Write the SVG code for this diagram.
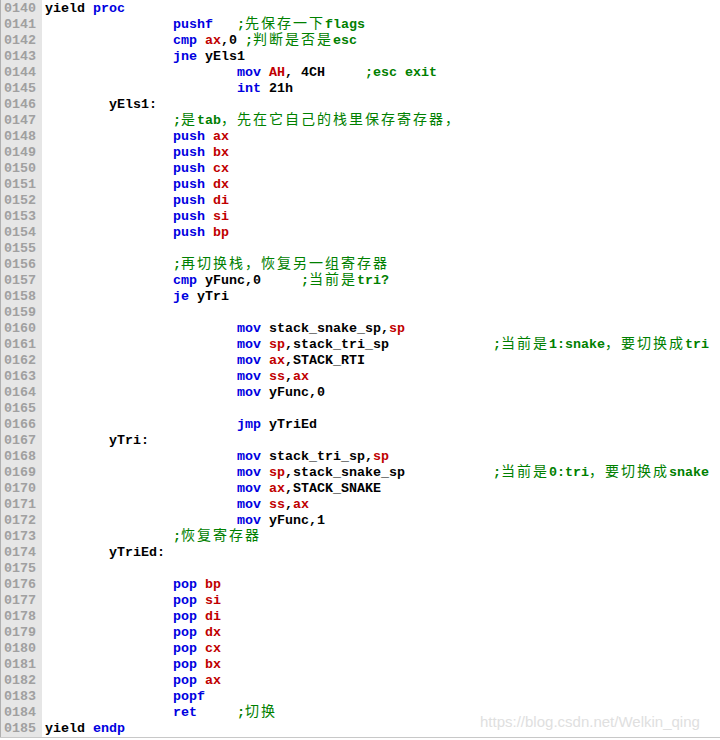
<svg xmlns="http://www.w3.org/2000/svg" width="720" height="740" viewBox="0 0 720 740" xml:space="preserve">
<style>
text{font-family:"Liberation Mono","Noto Sans CJK SC",monospace;font-size:13.33px;font-weight:bold;fill:#000}
.n{fill:#a0a0a0}
.k{fill:#0000e0}
.r{fill:#c00000}
.c{fill:#008000}
.z{font-family:"Noto Sans CJK SC",sans-serif;font-weight:normal;font-size:14px;letter-spacing:2px}
.w{font-family:"Liberation Sans",sans-serif;font-weight:normal;font-size:15px;fill:#e0e0e0}
</style>
<rect width="720" height="740" fill="#fff"/>
<g id="gutter">
<rect x="0" y="0" width="42" height="737" fill="#e6e6e6"/>
<line x1="0.5" y1="0" x2="0.5" y2="737" stroke="#b0b0b0"/>
<line x1="0" y1="737.5" x2="720" y2="737.5" stroke="#c8c8c8"/>
</g>
<g id="numbers">
<text class="n" x="4" y="12">0140</text><text class="n" x="4" y="28">0141</text><text class="n" x="4" y="44">0142</text><text class="n" x="4" y="60">0143</text><text class="n" x="4" y="76">0144</text><text class="n" x="4" y="92">0145</text><text class="n" x="4" y="108">0146</text><text class="n" x="4" y="124">0147</text><text class="n" x="4" y="140">0148</text><text class="n" x="4" y="156">0149</text><text class="n" x="4" y="172">0150</text><text class="n" x="4" y="188">0151</text><text class="n" x="4" y="204">0152</text><text class="n" x="4" y="220">0153</text><text class="n" x="4" y="236">0154</text><text class="n" x="4" y="252">0155</text><text class="n" x="4" y="268">0156</text><text class="n" x="4" y="284">0157</text><text class="n" x="4" y="300">0158</text><text class="n" x="4" y="316">0159</text><text class="n" x="4" y="332">0160</text><text class="n" x="4" y="348">0161</text><text class="n" x="4" y="364">0162</text><text class="n" x="4" y="380">0163</text><text class="n" x="4" y="396">0164</text><text class="n" x="4" y="412">0165</text><text class="n" x="4" y="428">0166</text><text class="n" x="4" y="444">0167</text><text class="n" x="4" y="460">0168</text><text class="n" x="4" y="476">0169</text><text class="n" x="4" y="492">0170</text><text class="n" x="4" y="508">0171</text><text class="n" x="4" y="524">0172</text><text class="n" x="4" y="540">0173</text><text class="n" x="4" y="556">0174</text><text class="n" x="4" y="572">0175</text><text class="n" x="4" y="588">0176</text><text class="n" x="4" y="604">0177</text><text class="n" x="4" y="620">0178</text><text class="n" x="4" y="636">0179</text><text class="n" x="4" y="652">0180</text><text class="n" x="4" y="668">0181</text><text class="n" x="4" y="684">0182</text><text class="n" x="4" y="700">0183</text><text class="n" x="4" y="716">0184</text><text class="n" x="4" y="732">0185</text>
</g>
<g id="code">
<text x="45" y="12">yield <tspan class="k">proc</tspan></text>
<text x="173" y="28"><tspan class="k">pushf</tspan><tspan class="c" x="237">;<tspan class="z">先保存一下</tspan>flags</tspan></text>
<text x="173" y="44"><tspan class="k">cmp</tspan> <tspan class="r">ax</tspan>,0 <tspan class="c">;<tspan class="z">判断是否是</tspan>esc</tspan></text>
<text x="173" y="60"><tspan class="k">jne</tspan> yEls1</text>
<text x="237" y="76"><tspan class="k">mov</tspan> <tspan class="r">AH</tspan>, 4CH<tspan class="c" x="365">;esc exit</tspan></text>
<text x="237" y="92"><tspan class="k">int</tspan> 21h</text>
<text x="109" y="108">yEls1:</text>
<text x="173" y="124" class="c">;<tspan class="z">是</tspan>tab<tspan class="z">，先在它自己的栈里保存寄存器，</tspan></text>
<text x="173" y="140"><tspan class="k">push</tspan> <tspan class="r">ax</tspan></text>
<text x="173" y="156"><tspan class="k">push</tspan> <tspan class="r">bx</tspan></text>
<text x="173" y="172"><tspan class="k">push</tspan> <tspan class="r">cx</tspan></text>
<text x="173" y="188"><tspan class="k">push</tspan> <tspan class="r">dx</tspan></text>
<text x="173" y="204"><tspan class="k">push</tspan> <tspan class="r">di</tspan></text>
<text x="173" y="220"><tspan class="k">push</tspan> <tspan class="r">si</tspan></text>
<text x="173" y="236"><tspan class="k">push</tspan> <tspan class="r">bp</tspan></text>
<text x="173" y="268" class="c">;<tspan class="z">再切换栈，恢复另一组寄存器</tspan></text>
<text x="173" y="284"><tspan class="k">cmp</tspan> yFunc,0<tspan class="c" x="301">;<tspan class="z">当前是</tspan>tri?</tspan></text>
<text x="173" y="300"><tspan class="k">je</tspan> yTri</text>
<text x="237" y="332"><tspan class="k">mov</tspan> stack_snake_sp,<tspan class="r">sp</tspan></text>
<text x="237" y="348"><tspan class="k">mov</tspan> <tspan class="r">sp</tspan>,stack_tri_sp<tspan class="c" x="493">;<tspan class="z">当前是</tspan>1:snake<tspan class="z">，要切换成</tspan>tri</tspan></text>
<text x="237" y="364"><tspan class="k">mov</tspan> <tspan class="r">ax</tspan>,STACK_RTI</text>
<text x="237" y="380"><tspan class="k">mov</tspan> <tspan class="r">ss</tspan>,<tspan class="r">ax</tspan></text>
<text x="237" y="396"><tspan class="k">mov</tspan> yFunc,0</text>
<text x="237" y="428"><tspan class="k">jmp</tspan> yTriEd</text>
<text x="109" y="444">yTri:</text>
<text x="237" y="460"><tspan class="k">mov</tspan> stack_tri_sp,<tspan class="r">sp</tspan></text>
<text x="237" y="476"><tspan class="k">mov</tspan> <tspan class="r">sp</tspan>,stack_snake_sp<tspan class="c" x="493">;<tspan class="z">当前是</tspan>0:tri<tspan class="z">，要切换成</tspan>snake</tspan></text>
<text x="237" y="492"><tspan class="k">mov</tspan> <tspan class="r">ax</tspan>,STACK_SNAKE</text>
<text x="237" y="508"><tspan class="k">mov</tspan> <tspan class="r">ss</tspan>,<tspan class="r">ax</tspan></text>
<text x="237" y="524"><tspan class="k">mov</tspan> yFunc,1</text>
<text x="173" y="540" class="c">;<tspan class="z">恢复寄存器</tspan></text>
<text x="109" y="556">yTriEd:</text>
<text x="173" y="588"><tspan class="k">pop</tspan> <tspan class="r">bp</tspan></text>
<text x="173" y="604"><tspan class="k">pop</tspan> <tspan class="r">si</tspan></text>
<text x="173" y="620"><tspan class="k">pop</tspan> <tspan class="r">di</tspan></text>
<text x="173" y="636"><tspan class="k">pop</tspan> <tspan class="r">dx</tspan></text>
<text x="173" y="652"><tspan class="k">pop</tspan> <tspan class="r">cx</tspan></text>
<text x="173" y="668"><tspan class="k">pop</tspan> <tspan class="r">bx</tspan></text>
<text x="173" y="684"><tspan class="k">pop</tspan> <tspan class="r">ax</tspan></text>
<text x="173" y="700" class="k">popf</text>
<text x="173" y="716"><tspan class="k">ret</tspan><tspan class="c" x="237">;<tspan class="z">切换</tspan></tspan></text>
<text x="45" y="732">yield <tspan class="k">endp</tspan></text>
</g>
<text class="w" x="480" y="727">https://blog.csdn.net/Welkin_qing</text>
</svg>
